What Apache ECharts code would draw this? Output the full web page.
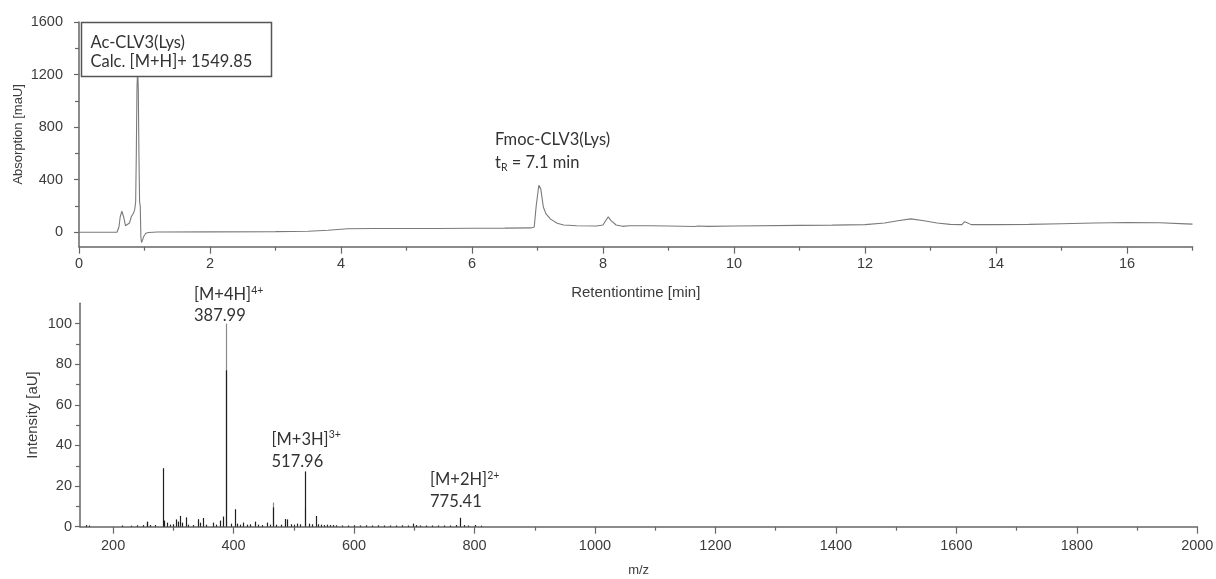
<!DOCTYPE html>
<html>
<head>
<meta charset="utf-8">
<script src="https://cdn.jsdelivr.net/npm/echarts@6/dist/echarts.min.js"></script>
<style>
  html, body { margin: 0; padding: 0; background: #fff; }
  #chart { width: 1216px; height: 579px; }
</style>
</head>
<body>
<div id="chart"></div>
<script>
// HPLC trace: retention time [min] and absorption [mAU]
const rtTime = [0, 0.3, 0.58, 0.61, 0.63, 0.655, 0.68, 0.71, 0.74, 0.77, 0.80, 0.83, 0.85, 0.865, 0.875, 0.885,
  0.895, 0.905, 0.915, 0.925, 0.935, 0.945, 0.955, 0.97, 0.99, 1.02, 1.06, 1.2, 2, 3, 3.5, 3.8, 4.1, 4.5, 5, 5.5,
  6, 6.5, 6.9, 6.95, 6.98, 7.02, 7.05, 7.09, 7.13, 7.2, 7.3, 7.4, 7.6, 7.9, 8.0, 8.05, 8.08, 8.12, 8.2, 8.3,
  8.4, 8.7, 9.0, 9.4, 9.45, 9.6, 10, 11, 11.5, 12.0, 12.3, 12.5, 12.7, 12.9, 13.1, 13.3, 13.48, 13.52, 13.56,
  13.62, 14, 14.5, 15, 15.5, 16, 16.5, 16.9, 17];
const rtAbsorbance = [0, 0, 0, 40, 120, 160, 120, 50, 38, 70, 120, 145, 170, 230, 600, 1100,
  1230, 1100, 600, 230, 200, -40, -78, -60, -30, -8, -2, 2, 3, 5, 8, 15, 27, 28, 29, 29,
  30, 31, 33, 40, 200, 358, 330, 190, 140, 100, 68, 55, 50, 48, 55, 95, 117, 90, 55, 45,
  50, 50, 47, 44, 48, 45, 48, 52, 54, 58, 70, 88, 102, 88, 70, 60, 58, 80, 72,
  58, 58, 60, 65, 70, 74, 72, 64, 62];

// ESI mass spectrum: m/z and intensity [aU]
const msMz = [155, 160, 214, 230, 240, 250, 255.5, 257, 262, 270, 282, 284, 290, 295, 300, 305, 308, 311, 315,
  321, 325, 332, 341, 344, 349, 355, 365, 370, 377, 382, 387.99, 395, 402, 405, 410, 416, 422, 428, 435, 440,
  447, 455, 460, 465.7, 470, 478, 485, 489, 495, 500, 505, 510, 517.96, 525, 531, 536.6, 540, 545, 550, 555,
  560, 565, 570, 580, 590, 600, 610, 620, 630, 640, 650, 660, 670, 680, 690, 698, 703, 710, 720, 730, 740,
  750, 760, 770, 775.41, 782, 790, 800, 810];
const msIntensity = [0.8, 0.6, 0.6, 0.5, 0.7, 0.8, 2.5, 2.2, 0.8, 0.8, 28.8, 3, 2, 1, 1.2, 3.6, 2.5, 5.3, 2,
  4.6, 1, 0.8, 3.7, 2, 4.3, 1, 2, 1, 3, 5, 77, 1.5, 8.6, 1.5, 1, 2, 1, 1.2, 2.5, 1,
  0.8, 2, 1, 9.5, 1, 1, 3.8, 3.6, 1.2, 1, 1.5, 1.2, 27.2, 1.5, 1.2, 5.3, 1.2, 1, 0.8, 1,
  0.8, 0.8, 0.7, 0.6, 0.6, 0.7, 0.6, 0.7, 0.6, 0.7, 0.6, 0.6, 0.6, 0.7, 0.6, 1.5, 0.8, 0.6, 0.6, 0.6, 0.6,
  0.6, 0.6, 0.8, 4.4, 0.8, 0.6, 0.8, 0.5];
// lighter sticks drawn behind the main ones
const msMzLight = [387.99, 465.7, 519];
const msIntensityLight = [100, 11.9, 9];

// tick positions
const rtMajorTicks = [0, 2, 4, 6, 8, 10, 12, 14, 16];
const rtMinorTicks = [1, 3, 5, 7, 9, 11, 13, 15, 17];
const absMajorTicks = [0, 400, 800, 1200, 1600];
const absMinorTicks = [200, 600, 1000, 1400];
const mzMajorTicks = [200, 400, 600, 800, 1000, 1200, 1400, 1600, 1800, 2000];
const mzMinorTicks = [300, 500, 700, 900, 1100, 1300, 1500, 1700, 1900];
const intMajorTicks = [0, 20, 40, 60, 80, 100];
const intMinorTicks = [10, 30, 50, 70, 90];

const chromData = rtTime.map((t, i) => [t, rtAbsorbance[i]]);
const msData = msMz.map((m, i) => [m, msIntensity[i]]);
const msLightData = msMzLight.map((m, i) => [m, msIntensityLight[i]]);

const axisColor = '#666';
const labelColor = '#3c3c3c';
const plain = v => String(v);
const tickFont = { fontFamily: 'Liberation Sans', fontSize: 14.5, color: labelColor, formatter: plain };
const nameFont = size => ({ fontFamily: 'Liberation Sans', fontSize: size, color: labelColor });
const annoFont = '16.5px Lato';
const supFont = '10.5px Lato';

function majorAxis(grid, min, max, ticks, margin, extra) {
  return Object.assign({
    gridIndex: grid, type: 'value', min: min, max: max,
    nameMoveOverlap: false,
    axisLine: { onZero: false, lineStyle: { color: axisColor, width: 1.5 } },
    axisTick: { customValues: ticks, length: 7, lineStyle: { color: axisColor, width: 1.2 } },
    axisLabel: Object.assign({ customValues: ticks, margin: margin }, tickFont),
    splitLine: { show: false }
  }, extra);
}
function minorAxis(grid, min, max, ticks, pos) {
  return {
    gridIndex: grid, type: 'value', min: min, max: max, position: pos,
    axisLine: { show: false, onZero: false },
    axisTick: { customValues: ticks, length: 4, lineStyle: { color: axisColor, width: 1.2 } },
    axisLabel: { show: false },
    splitLine: { show: false }
  };
}

function stickRenderer(color) {
  return function (params, api) {
    const p0 = api.coord([api.value(0), 0]);
    const p1 = api.coord([api.value(0), api.value(1)]);
    const x = Math.round(p0[0]) + 0.5;
    return {
      type: 'line',
      shape: { x1: x, y1: p0[1], x2: x, y2: p1[1] },
      style: { stroke: color, lineWidth: 1.2 }
    };
  };
}

function superLabel(x, y, base, sup) {
  return {
    type: 'text', z: 101, x: x, y: y,
    style: {
      text: '{m|' + base + '}{s|' + sup + '}', verticalAlign: 'middle',
      rich: {
        m: { font: annoFont, fill: '#333', lineHeight: 20 },
        s: { font: supFont, fill: '#333', lineHeight: 14, verticalAlign: 'top' }
      }
    }
  };
}
function plainLabel(x, y, text) {
  return {
    type: 'text', z: 101, x: x, y: y,
    style: { text: text, font: annoFont, fill: '#333', verticalAlign: 'middle' }
  };
}

const chart = echarts.init(document.getElementById('chart'), null, { renderer: 'canvas' });
chart.setOption({
  animation: false,
  backgroundColor: '#fff',
  grid: [
    { left: 79, right: 23.5, top: 22, height: 224.7, containLabel: false, outerBoundsMode: 'none' },
    { left: 80, right: 18.7, top: 303.3, height: 223.4, containLabel: false, outerBoundsMode: 'none' }
  ],
  xAxis: [
    majorAxis(0, 0, 17, rtMajorTicks, 10, {
      position: 'bottom', name: 'Retentiontime [min]', nameLocation: 'middle', nameGap: 39,
      nameTextStyle: nameFont(15)
    }),
    minorAxis(0, 0, 17, rtMinorTicks, 'bottom'),
    majorAxis(1, 145, 2000, mzMajorTicks, 12, {
      position: 'bottom', name: 'm/z', nameLocation: 'middle', nameGap: 37,
      nameTextStyle: nameFont(13)
    }),
    minorAxis(1, 145, 2000, mzMinorTicks, 'bottom')
  ],
  yAxis: [
    majorAxis(0, -110, 1600, absMajorTicks, 16, {
      position: 'left', name: 'Absorption [maU]', nameLocation: 'middle', nameGap: 54.5,
      nameTextStyle: nameFont(13),
      axisTick: { customValues: absMajorTicks, length: 5, lineStyle: { color: axisColor, width: 1.2 } }
    }),
    minorAxis(0, -110, 1600, absMinorTicks, 'left'),
    majorAxis(1, 0, 110, intMajorTicks, 8, {
      position: 'left', name: 'Intensity [aU]', nameLocation: 'middle', nameGap: 39.5,
      nameTextStyle: nameFont(15),
      axisTick: { customValues: intMajorTicks, length: 5, lineStyle: { color: axisColor, width: 1.2 } }
    }),
    minorAxis(1, 0, 110, intMinorTicks, 'left')
  ],
  series: [
    {
      type: 'line', xAxisIndex: 0, yAxisIndex: 0, data: chromData,
      symbol: 'none', lineStyle: { color: '#7a7a7a', width: 1.1 }, z: 2
    },
    {
      type: 'custom', xAxisIndex: 2, yAxisIndex: 2, data: msLightData,
      renderItem: stickRenderer('#8a8a8a'), z: 2
    },
    {
      type: 'custom', xAxisIndex: 2, yAxisIndex: 2, data: msData,
      renderItem: stickRenderer('#1e1e1e'), z: 3
    }
  ],
  graphic: [
    {
      type: 'rect', z: 100,
      shape: { x: 81.5, y: 22.5, width: 190, height: 54 },
      style: { fill: '#fff', stroke: '#555', lineWidth: 1.5 }
    },
    plainLabel(90.5, 42.7, 'Ac-CLV3(Lys)'),
    plainLabel(90.5, 61.7, 'Calc. [M+H]+ 1549.85'),
    plainLabel(495, 140, 'Fmoc-CLV3(Lys)'),
    {
      type: 'text', z: 101, x: 495, y: 162.7,
      style: {
        text: '{m|t}{s|R}{m| = 7.1 min}', verticalAlign: 'middle',
        rich: {
          m: { font: annoFont, fill: '#333', lineHeight: 20 },
          s: { font: supFont, fill: '#333', lineHeight: 12, verticalAlign: 'bottom' }
        }
      }
    },
    superLabel(194, 295, '[M+4H]', '4+'),
    plainLabel(194, 316, '387.99'),
    superLabel(271.5, 439.3, '[M+3H]', '3+'),
    plainLabel(271.5, 461.7, '517.96'),
    superLabel(430, 480, '[M+2H]', '2+'),
    plainLabel(430, 501.7, '775.41')
  ]
});
</script>
</body>
</html>
